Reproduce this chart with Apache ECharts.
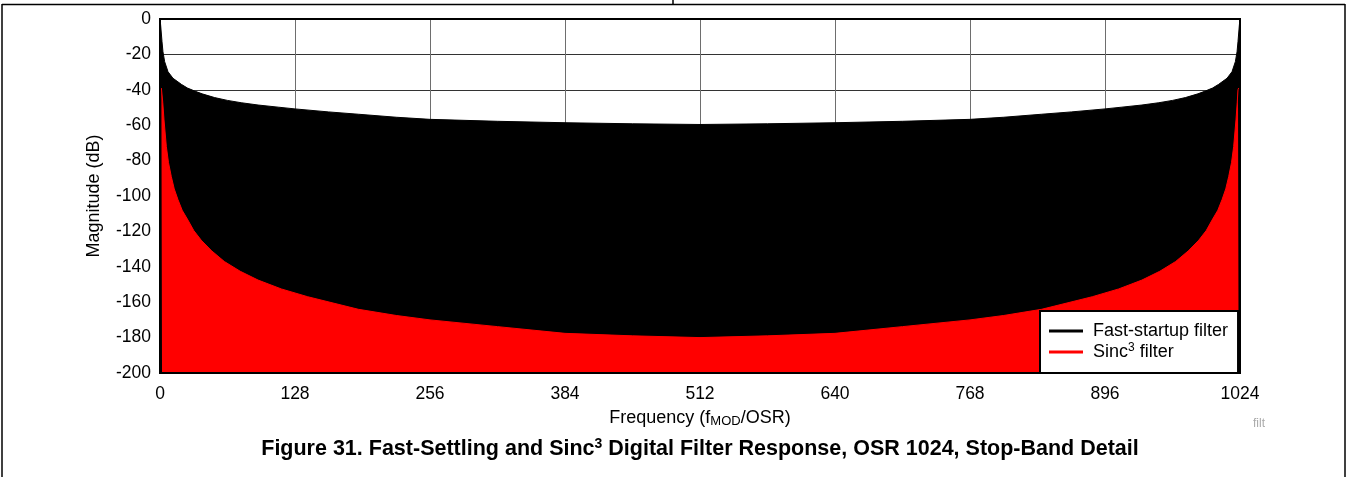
<!DOCTYPE html>
<html>
<head>
<meta charset="utf-8">
<script src="https://cdn.jsdelivr.net/npm/echarts@6/dist/echarts.min.js"></script>
<style>
  html, body { margin: 0; padding: 0; background: #fff; }
  #chart { width: 1347px; height: 477px; }
</style>
</head>
<body>
<div id="chart"></div>
<script>
// fast-startup filter: upper envelope of the response (its nulls reach the floor)
const fastFreq = [0, 0.6, 1.9, 2.8, 4.4, 7.6, 12.3, 17, 20.2, 26, 32.9, 40, 51.8, 64, 77, 93, 112, 128, 160, 188, 224, 256, 320, 384, 448, 512,
  576, 640, 704, 768, 800, 836, 864, 896, 912, 931, 947, 960, 972.2, 984, 991.1, 998, 1003.8, 1007, 1011.7, 1016.4, 1019.6, 1021.2, 1022.1, 1023.4, 1024]
const fastDb = [0, -3.4, -12.8, -18.5, -24.1, -29.8, -33.5, -35.5, -36.9, -39, -40.7, -42.3, -44.4, -46, -47.3, -48.6, -49.8, -50.8, -52.5, -53.8, -55.5, -56.7, -57.8, -58.6, -59.2, -59.6,
  -59.2, -58.6, -57.8, -56.7, -55.5, -53.8, -52.5, -50.8, -49.8, -48.6, -47.3, -46, -44.4, -42.3, -40.7, -39, -36.9, -35.5, -33.5, -29.8, -24.1, -18.5, -12.8, -3.4, 0]

// sinc3 filter envelope
const sincFreq = [1.3, 1.9, 2.6, 3.8, 6, 8, 10.7, 13.5, 17, 21, 26.5, 32, 39, 49, 61, 76, 93, 115, 140, 188, 224, 256, 320, 384, 448, 512,
  576, 640, 704, 768, 800, 836, 884, 909, 931, 948, 963, 975, 985, 992, 997.5, 1003, 1007, 1010.5, 1013.3, 1016, 1018, 1020.2, 1021.4, 1022.1, 1022.7]
const sincDb = [-39, -40, -47, -57, -72, -81, -89, -96, -102, -108, -113.6, -119.5, -124.9, -131, -137, -142.5, -147.5, -152.5, -156.9, -164, -167.5, -170, -173.8, -177.6, -179, -180,
  -179, -177.6, -173.8, -170, -167.5, -164, -156.9, -152.5, -147.5, -142.5, -137, -131, -124.9, -119.5, -113.6, -108, -102, -96, -89, -81, -72, -57, -47, -40, -39]

const xTicks = [0, 128, 256, 384, 512, 640, 768, 896, 1024]
const yTicks = [0, -20, -40, -60, -80, -100, -120, -140, -160, -180, -200]

const font = 'Liberation Sans, Arial, sans-serif'

const chart = echarts.init(document.getElementById('chart'), null, { renderer: 'canvas' })

const zip = (xs, ys) => xs.map((x, i) => [x, ys[i]])

const option = {
  backgroundColor: '#fff',
  animation: false,
  textStyle: { fontFamily: font, color: '#000' },
  title: {
    text: 'Figure 31. Fast-Settling and Sinc{sup|3} Digital Filter Response, OSR 1024, Stop-Band Detail',
    left: 700,
    top: 437,
    padding: 0,
    textAlign: 'center',
    textStyle: {
      fontFamily: font,
      fontSize: 21.5,
      fontWeight: 'bold',
      color: '#000',
      lineHeight: 24,
      rich: {
        sup: { fontFamily: font, fontSize: 14, fontWeight: 'bold', verticalAlign: 'top', lineHeight: 12, color: '#000' },
      },
    },
  },
  grid: {
    left: 160,
    right: 107,
    top: 19,
    bottom: 104,
    show: true,
    z: 10,
    backgroundColor: 'transparent',
    borderColor: '#000',
    borderWidth: 2,
  },
  legend: {
    orient: 'vertical',
    left: 1040,
    top: 311,
    padding: [10, 10, 11, 9],
    itemGap: 1,
    itemWidth: 34,
    itemHeight: 3,
    icon: 'rect',
    backgroundColor: '#fff',
    borderColor: '#000',
    borderWidth: 2,
    z: 20,
    textStyle: {
      fontFamily: font,
      fontSize: 18,
      color: '#000',
      lineHeight: 20,
      padding: [0, 0, 0, 5],
      rich: {
        sup: { fontFamily: font, fontSize: 12, verticalAlign: 'top', lineHeight: 10, color: '#000' },
      },
    },
    formatter: (name) => (name === 'Sinc3 filter' ? 'Sinc{sup|3} filter' : name),
    data: ['Fast-startup filter', 'Sinc3 filter'],
  },
  xAxis: {
    type: 'value',
    min: 0,
    max: 1024,
    interval: 128,
    name: 'Frequency (f{sub|MOD}/OSR)',
    nameLocation: 'middle',
    nameGap: 27,
    nameTextStyle: {
      fontFamily: font,
      fontSize: 18,
      color: '#000',
      lineHeight: 20,
      rich: {
        sub: { fontFamily: font, fontSize: 13, verticalAlign: 'bottom', lineHeight: 10, color: '#000' },
      },
    },
    axisLine: { show: false },
    axisTick: { show: false },
    axisLabel: {
      fontFamily: font,
      fontSize: 17.5,
      color: '#000',
      margin: 12,
      formatter: (v) => (xTicks.includes(v) ? String(v) : ''),
    },
    splitLine: { show: true, lineStyle: { color: '#6e6e6e', width: 1 } },
  },
  yAxis: {
    type: 'value',
    min: -200,
    max: 0,
    interval: 20,
    name: 'Magnitude (dB)',
    nameLocation: 'middle',
    nameGap: 57,
    nameTextStyle: { fontFamily: font, fontSize: 18, color: '#000' },
    axisLine: { show: false },
    axisTick: { show: false },
    axisLabel: {
      fontFamily: font,
      fontSize: 17.5,
      color: '#000',
      margin: 9,
      formatter: (v) => (yTicks.includes(v) ? String(v) : ''),
    },
    splitLine: { show: true, lineStyle: { color: '#333', width: 1 } },
  },
  series: [
    {
      name: 'Fast-startup filter',
      type: 'line',
      color: '#000',
      showSymbol: false,
      silent: true,
      lineStyle: { color: '#000', width: 1 },
      areaStyle: { color: '#000', opacity: 1, origin: 'start' },
      data: zip(fastFreq, fastDb),
    },
    {
      name: 'Sinc3 filter',
      type: 'line',
      color: '#ff0000',
      showSymbol: false,
      silent: true,
      lineStyle: { color: '#ff0000', width: 1 },
      areaStyle: { color: '#ff0000', opacity: 1, origin: 'start' },
      data: zip(sincFreq, sincDb),
    },
  ],
  graphic: [
    // page frame around the figure
    { type: 'line', shape: { x1: 2, y1: 4.5, x2: 1345, y2: 4.5 }, style: { stroke: '#000', lineWidth: 1.5 } },
    { type: 'line', shape: { x1: 2, y1: 4, x2: 2, y2: 477 }, style: { stroke: '#000', lineWidth: 1.5 } },
    { type: 'line', shape: { x1: 1345, y1: 4, x2: 1345, y2: 477 }, style: { stroke: '#000', lineWidth: 1.5 } },
    { type: 'line', shape: { x1: 673, y1: 0, x2: 673, y2: 4 }, style: { stroke: '#000', lineWidth: 1.5 } },
    {
      type: 'text',
      x: 1253,
      y: 418,
      style: { text: 'filt', font: '12px ' + font, fill: '#aaa' },
    },
  ],
}

chart.setOption(option)
</script>
</body>
</html>
